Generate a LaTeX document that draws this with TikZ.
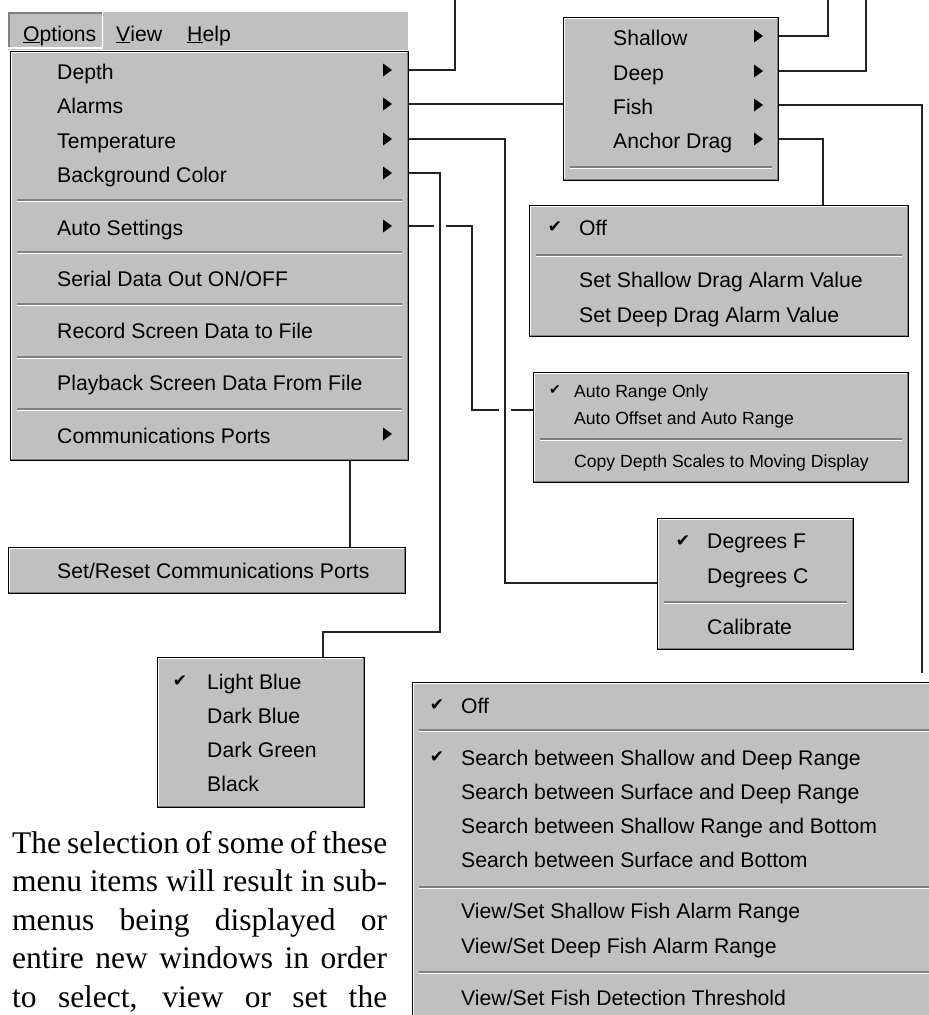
\documentclass[tikz,border=0pt]{standalone}
\usepackage{fontspec}
\setmainfont{Liberation Serif}
\newfontfamily\menufont{Liberation Sans}
\newfontfamily\symfont{DejaVu Sans}
\usetikzlibrary{positioning}
\definecolor{menugray}{RGB}{192,192,192}
\definecolor{menushade}{RGB}{128,128,128}
\definecolor{wirecol}{RGB}{34,34,34}

\tikzset{
  menubox/.style={anchor=north west, inner sep=0pt, fill=menugray, draw=black, line width=1pt,
    path picture={
      \draw[white, line width=3pt] (path picture bounding box.south west) -- (path picture bounding box.north west) -- (path picture bounding box.north east);
      \draw[menushade, line width=4pt] (path picture bounding box.south west) -- (path picture bounding box.south east) -- (path picture bounding box.north east);}},
  barbox/.style={anchor=north west, inner sep=0pt, fill=menugray},
  pressed/.style={anchor=north west, inner sep=0pt, fill=menugray,
    path picture={
      \draw[menushade, line width=3pt] (path picture bounding box.south west) -- (path picture bounding box.north west) -- (path picture bounding box.north east);
      \draw[white, line width=3pt] (path picture bounding box.south west) -- (path picture bounding box.south east) -- (path picture bounding box.north east);}},
  item/.style={anchor=west, inner sep=0pt, text height=18pt, text depth=0pt, font=\menufont\fontsize{21.2}{24}\selectfont},
  smallitem/.style={item, text height=15pt, font=\menufont\fontsize{17.6}{20}\selectfont},
  tick/.style={inner sep=0pt, font=\symfont\fontsize{17}{17}\selectfont},
  wire/.style={draw=wirecol, line width=2.5pt},
  hop/.style={preaction={draw=white, line width=12pt, shorten <=2pt, shorten >=2pt}},
  subarrow/.pic={\fill (-4,-6.5) -- (5,0) -- (-4,6.5) -- cycle;}
}

\begin{document}
\begin{tikzpicture}[x=1pt, y=-1pt]
  \useasboundingbox (0,0) rectangle (929,1015);
  \clip (0,0) rectangle (929,1015);
  \fill[white] (0,0) rectangle (929,1015);

  \node[barbox, minimum width=400pt, minimum height=38pt] (bar) at (8,12) {};
  \node[pressed, minimum width=95pt, minimum height=36pt] (optbtn) at (8,12) {};
  \node[item] (options) at (23,32) {\underline{O}ptions};
  \node[item] (view) at (116,32) {\underline{V}iew};
  \node[item] (help) at (187,32) {\underline{H}elp};

  \node[menubox, minimum width=398pt, minimum height=409pt] (main) at (10,51) {};
  \node[item] (depth) at (57,70) {Depth};
  \node[item] (alarms) at (57,104) {Alarms};
  \node[item] (temp) at (57,139) {Temperature};
  \node[item] (bgcolor) at (57,173) {Background Color};
  \node[item] (auto) at (57,226) {Auto Settings};
  \node[item] (serial) at (57,277) {Serial Data Out ON/OFF};
  \node[item] (record) at (57,329) {Record Screen Data to File};
  \node[item] (playback) at (57,381) {Playback Screen Data From File};
  \node[item] (comm) at (57,434) {Communications Ports};
  \foreach \y in {70,104,139,173,226,434} \pic at (387,\y) {subarrow};

  \node[menubox, minimum width=215pt, minimum height=163pt] (alarmsmenu) at (563,17) {};
  \node[item] (shallow) at (613,36) {Shallow};
  \node[item] (deep) at (613,71) {Deep};
  \node[item] (fish) at (613,105) {Fish};
  \node[item] (anchordrag) at (613,139) {Anchor Drag};
  \foreach \y in {36,71,105,139} \pic at (758,\y) {subarrow};

  \node[menubox, minimum width=379pt, minimum height=131pt] (anchormenu) at (529,205) {};
  \node[tick] at (555,227) {✔};
  \node[item] (dragoff) at (579,226) {Off};
  \node[item] (dragshallow) at (579,278) {Set Shallow Drag Alarm Value};
  \node[item] (dragdeep) at (579,313) {Set Deep Drag Alarm Value};

  \node[menubox, minimum width=375pt, minimum height=110pt] (automenu) at (533,372) {};
  \node[tick, font=\symfont\fontsize{14}{14}\selectfont] at (555,390) {✔};
  \node[smallitem] (rangeonly) at (574,390) {Auto Range Only};
  \node[smallitem] (offsetrange) at (574,417) {Auto Offset and Auto Range};
  \node[smallitem] (copyscales) at (574,460) {Copy Depth Scales to Moving Display};

  \node[menubox, minimum width=196pt, minimum height=131pt] (tempmenu) at (657,518) {};
  \node[tick] at (683,541) {✔};
  \node[item] (degf) at (707,539) {Degrees F};
  \node[item] (degc) at (707,574) {Degrees C};
  \node[item] (calib) at (707,625) {Calibrate};

  \node[menubox, minimum width=397pt, minimum height=46pt] (setreset) at (8,547) {};
  \node[item] (resetports) at (57,569) {Set/Reset Communications Ports};

  \node[menubox, minimum width=207pt, minimum height=150pt] (bgmenu) at (157,657) {};
  \node[tick] at (180,681) {✔};
  \node[item] (lightblue) at (207,680) {Light Blue};
  \node[item] (darkblue) at (207,714) {Dark Blue};
  \node[item] (darkgreen) at (207,748) {Dark Green};
  \node[item] (black) at (207,782) {Black};

  \node[menubox, minimum width=540pt, minimum height=360pt] (fishmenu) at (412,682) {};
  \node[tick] at (437,705) {✔};
  \node[tick] at (437,757) {✔};
  \node[item] (fishoff) at (461,704) {Off};
  \node[item] (search1) at (461,756) {Search between Shallow and Deep Range};
  \node[item] (search2) at (461,790) {Search between Surface and Deep Range};
  \node[item] (search3) at (461,824) {Search between Shallow Range and Bottom};
  \node[item] (search4) at (461,858) {Search between Surface and Bottom};
  \node[item] (fishshallow) at (461,909) {View/Set Shallow Fish Alarm Range};
  \node[item] (fishdeep) at (461,944) {View/Set Deep Fish Alarm Range};
  \node[item] (threshold) at (461,996) {View/Set Fish Detection Threshold};

  \foreach \m/\y in {main/200, main/252, main/304, main/357, main/409, alarmsmenu/167,
    anchormenu/255, automenu/439, tempmenu/602, fishmenu/730, fishmenu/887, fishmenu/972} {
    \draw[menushade, line width=1.5pt] ([xshift=7pt]\m.west |- 0,\y) -- ([xshift=-7pt]\m.east |- 0,\y);
    \draw[white, line width=1.5pt] ([xshift=7pt]\m.west |- 0,\y+1.5) -- ([xshift=-7pt]\m.east |- 0,\y+1.5);
  }

  \coordinate (depthtop) at (455,-3);
  \coordinate (shallowtop) at (828,-3);
  \coordinate (deeptop) at (866,-3);
  \coordinate (fishx) at (922,0);
  \coordinate (anchorx) at (823,0);
  \coordinate (commx) at (350,0);
  \coordinate (bgx) at (323,0);
  \coordinate (autobend) at (472,410);
  \coordinate (bgbend) at (440,632);
  \coordinate (tempbend) at (505,583);

  \draw[wire] (depth -| main.east) -| (depthtop);
  \draw[wire] (alarms -| main.east) -- (alarms -| alarmsmenu.west);
  \draw[wire] (auto -| main.east) -| (autobend) -- (autobend -| automenu.west);
  \draw[wire, hop] (bgcolor -| main.east) -| (bgbend) -| (bgmenu.north -| bgx);
  \draw[wire, hop] (temp -| main.east) -| (tempbend) -- (tempbend -| tempmenu.west);
  \draw[wire] (main.south -| commx) -- (setreset.north -| commx);
  \draw[wire] (shallow -| alarmsmenu.east) -| (shallowtop);
  \draw[wire] (deep -| alarmsmenu.east) -| (deeptop);
  \draw[wire, shorten >=9pt] (fish -| alarmsmenu.east) -| (fishmenu.north -| fishx);
  \draw[wire] (anchordrag -| alarmsmenu.east) -| (anchormenu.north -| anchorx);

  \node[anchor=base west, inner sep=0pt] (para) at (12,853) {\parbox[t]{375pt}{\fontsize{31.5}{38.5}\selectfont
    \hyphenpenalty=10000 \parfillskip=0pt \spaceskip=0.25em plus 1em minus 0.12em
    The selection of some of these\linebreak menu items will result in sub-\linebreak menus being displayed or\linebreak entire new windows in order\linebreak to select, view or set the}};
\end{tikzpicture}
\end{document}
